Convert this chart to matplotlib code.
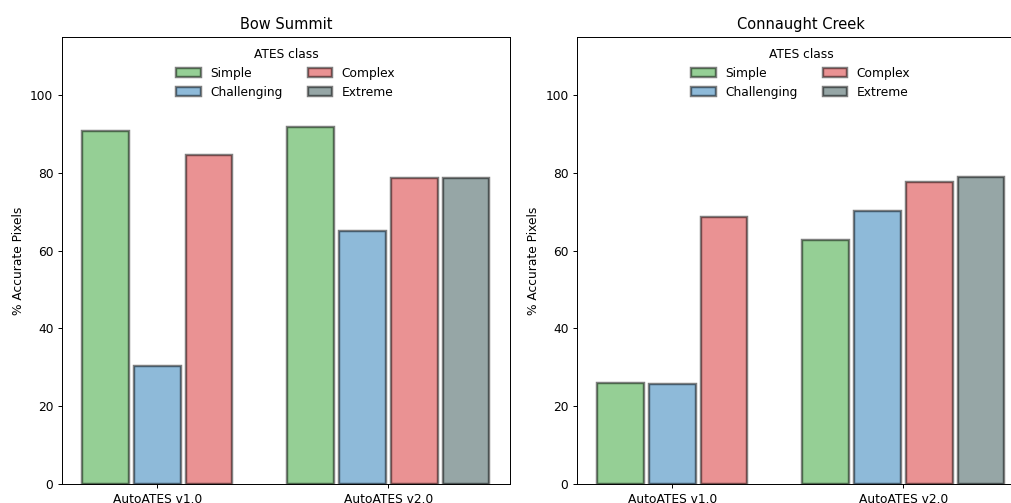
import numpy as np
import matplotlib
matplotlib.use("Agg")
import matplotlib.pyplot as plt

versions = ["AutoATES v1.0", "AutoATES v2.0"]
classes = ["Simple", "Challenging", "Complex", "Extreme"]
colors = ["#2ca02c", "#1f77b4", "#d62728", "#2f4f4f"]

sites = ["Bow Summit", "Connaught Creek"]
bow_v1 = [90.7, 30.3, 84.6, np.nan]
bow_v2 = [91.8, 65.0, 78.7, 78.8]
con_v1 = [26.0, 25.7, 68.6, np.nan]
con_v2 = [62.7, 70.2, 77.6, 78.9]
data = {
    "Bow Summit": [bow_v1, bow_v2],
    "Connaught Creek": [con_v1, con_v2],
}

DPI = 88
fig = plt.figure(figsize=(1011 / DPI, 503 / DPI), dpi=DPI)
ax_positions = [[0.0613, 0.0378, 0.443, 0.889], [0.5707, 0.0378, 0.443, 0.889]]

step = 0.225
width = 0.2

for site, pos in zip(sites, ax_positions):
    ax = fig.add_axes(pos)
    groups = data[site]
    handles = {}
    for gi, vals in enumerate(groups):
        present = [i for i, v in enumerate(vals) if not np.isnan(v)]
        n = len(present)
        for k, ci in enumerate(present):
            x = gi + (k - (n - 1) / 2) * step
            b = ax.bar(x, vals[ci], width=width, color=colors[ci], alpha=0.5,
                       edgecolor="black", linewidth=2)
            handles[ci] = b
    ax.set_xticks(range(len(versions)))
    ax.set_xticklabels(versions)
    ax.set_ylim(0, 115)
    ax.set_yticks([0, 20, 40, 60, 80, 100])
    ax.set_ylabel("% Accurate Pixels")
    ax.set_title(site)
    ax.legend([handles[i] for i in range(4)], classes, title="ATES class",
              ncol=2, loc="upper center", frameon=False)

fig.savefig("out.png", dpi=DPI)
